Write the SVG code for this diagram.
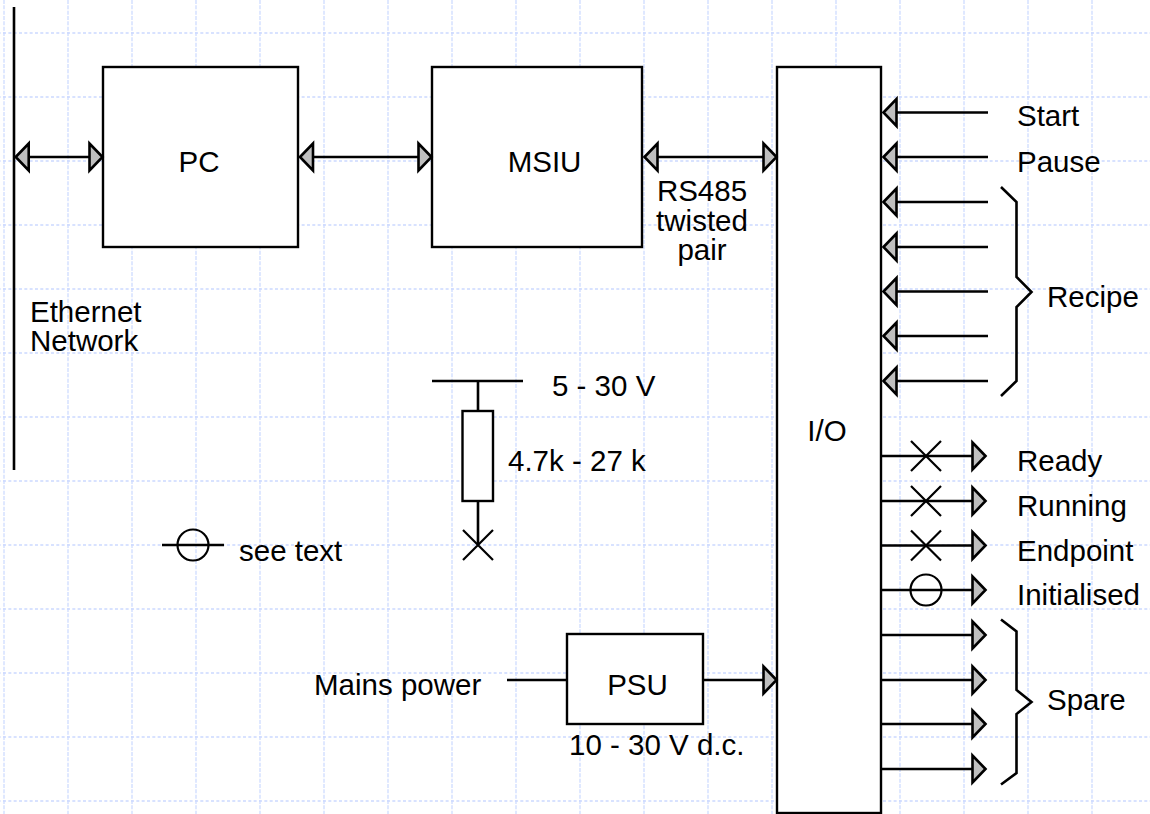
<svg xmlns="http://www.w3.org/2000/svg" width="1150" height="814" viewBox="0 0 1150 814">
<defs>
<pattern id="grid" x="3" y="32" width="64" height="64" patternUnits="userSpaceOnUse">
<path d="M1 0V64" fill="none" stroke="#dfe8ff" stroke-width="2" stroke-dasharray="4 1.33"/>
<path d="M0 1H64" fill="none" stroke="#cbd9ff" stroke-width="1.6" stroke-dasharray="3 2.33"/>
</pattern>
<path id="al" d="M0 0L13 -13.5V13.5Z" class="ah"/>
<path id="ar" d="M0 0L-13 -13.5V13.5Z" class="ah"/>
<path id="x" d="M-15 -15L15 15M-15 15L15 -15" class="thin"/>
</defs>
<style>
.ah{fill:#bfbfbf;stroke:#000;stroke-width:2.6;stroke-linejoin:miter}
.ln{fill:none;stroke:#000;stroke-width:2.6}
.thin{fill:none;stroke:#000;stroke-width:2.2}
.box{fill:#fff;stroke:#000;stroke-width:2.4}
text{font-family:"Liberation Sans",Arial,sans-serif;font-size:29.5px;fill:#000}
.m{text-anchor:middle}
</style>
<rect width="1150" height="814" fill="#fff"/>
<rect width="1150" height="814" fill="url(#grid)"/>
<g id="pc"><rect class="box" x="103" y="67" width="195" height="180"/><text class="m" x="199" y="172">PC</text></g>
<g id="msiu"><rect class="box" x="432" y="67" width="210" height="180"/><text class="m" x="544.5" y="172">MSIU</text></g>
<g id="io"><rect class="box" x="777" y="67" width="104" height="746"/><text class="m" x="827" y="441">I/O</text></g>
<g id="psu"><rect class="box" x="567" y="634" width="136" height="90"/><text class="m" x="637.5" y="695">PSU</text></g>
<g id="resistor"><rect class="box" x="462.5" y="411" width="30.500" height="90"/></g>
<g id="connectors">
<path class="ln" d="M14 7V470M29 157H89M312 157H418M656 157H763M897 112.500H988M897 157H988M897 202H988M897 247H988M897 291.500H988M897 336H988M897 381H988M881 456H972M881 501H972M881 545.500H972M881 590H972M881 635H972M881 680H972M881 724H972M881 769H972M507 680H567M703 680H763"/>
<path class="ln" d="M432 381H523M478 381V411M478 501V545M162 545H224"/>
<path class="ln" d="M1001 187L1016.500 202V277L1031.500 292L1016.500 307V381L1001 396M1001 619.500L1016.500 631.500V690L1031.500 702L1016.500 714V773L1001 784.500"/>
</g>
<g id="arrowheads">
<use href="#al" x="15.700" y="157"/><use href="#ar" x="102.500" y="157"/>
<use href="#al" x="300" y="157"/><use href="#ar" x="431.500" y="157"/>
<use href="#al" x="644.500" y="157"/><use href="#ar" x="776.500" y="157"/>
<use href="#ar" x="776.500" y="680"/>
<use href="#al" x="883.500" y="112.500"/><use href="#al" x="883.500" y="157"/><use href="#al" x="883.500" y="202"/><use href="#al" x="883.500" y="247"/><use href="#al" x="883.500" y="291.500"/><use href="#al" x="883.500" y="336"/><use href="#al" x="883.500" y="381"/>
<use href="#ar" x="985.500" y="456"/><use href="#ar" x="985.500" y="501"/><use href="#ar" x="985.500" y="545.500"/><use href="#ar" x="985.500" y="590"/><use href="#ar" x="985.500" y="635"/><use href="#ar" x="985.500" y="680"/><use href="#ar" x="985.500" y="724"/><use href="#ar" x="985.500" y="769"/>
</g>
<g id="symbols">
<use href="#x" x="926" y="456"/><use href="#x" x="926" y="501"/><use href="#x" x="926" y="545.500"/>
<circle class="thin" cx="926" cy="590" r="15.500"/>
<circle class="thin" cx="193" cy="545" r="15.500"/>
<use href="#x" x="478" y="545"/>
</g>
<g id="labels">
<text x="30" y="321.500">Ethernet</text><text x="30" y="351">Network</text>
<text class="m" x="702" y="201">RS485</text><text class="m" x="702" y="231">twisted</text><text class="m" x="702" y="260">pair</text>
<text x="552" y="396">5 - 30 V</text><text x="508" y="471">4.7k - 27 k</text>
<text x="239" y="561">see text</text>
<text x="314" y="695">Mains power</text><text x="569" y="755">10 - 30 V d.c.</text>
<text x="1017" y="126">Start</text><text x="1017" y="171.500">Pause</text><text x="1047" y="306.500">Recipe</text>
<text x="1017" y="470.500">Ready</text><text x="1017" y="516">Running</text><text x="1017" y="560.500">Endpoint</text><text x="1017" y="605">Initialised</text>
<text x="1047" y="710">Spare</text>
</g>
</svg>
